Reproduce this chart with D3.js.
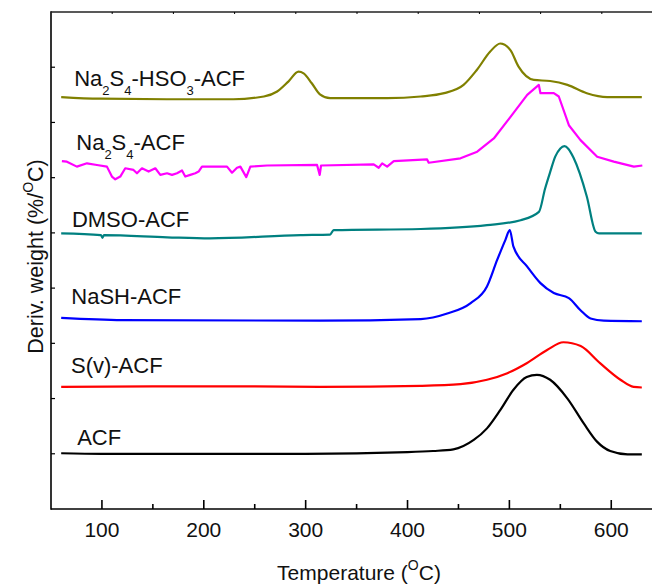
<!DOCTYPE html>
<html>
<head>
<meta charset="utf-8">
<script src="https://cdn.jsdelivr.net/npm/d3@7"></script>
<style>
  body { margin: 0; background: #fff; }
  svg { display: block; font-family: "Liberation Sans", Arial, sans-serif; }
</style>
</head>
<body>
<div id="chart"></div>
<script>
// DTG curves, [temperature (C), stacked deriv. weight (arb. units)]
var acf = [[60,1.01],[100,1.0],[200,1.0],[300,1.0],[400,1.03],[425,1.05],[445,1.08],[465,1.25],[478,1.46],[491,1.79],[504,2.16],[517,2.39],[527,2.43],[540,2.34],[557,2.0],[573,1.55],[586,1.22],[599,1.05],[616,0.99],[630,0.99]];
var sv = [[60,2.21],[150,2.22],[250,2.22],[314,2.21],[413,2.23],[452,2.26],[478,2.34],[498,2.46],[517,2.64],[537,2.88],[553,3.02],[570,2.95],[589,2.64],[609,2.34],[622,2.21],[630,2.2]];
var nash = [[60,3.46],[120,3.42],[314,3.41],[413,3.44],[439,3.54],[462,3.73],[478,4.03],[488,4.51],[496,4.87],[500.4,5.05],[504,4.75],[517.5,4.39],[530.5,4.09],[543.6,3.91],[558.4,3.82],[569.8,3.6],[579.7,3.45],[592.7,3.41],[630,3.4]];
var dmso = [[60,4.99],[99,4.96],[100.5,4.91],[102,4.96],[164,4.92],[206,4.9],[295,4.96],[324,4.97],[327.5,5.05],[413,5.07],[478,5.14],[511,5.23],[529,5.38],[535,5.8],[540,6.1],[545,6.38],[550,6.53],[554,6.57],[558,6.52],[563,6.36],[576,5.66],[584.6,5.02],[588,4.99],[630,4.99]];
var na2s4 = [[60.7,6.3],[65.6,6.29],[75.4,6.2],[85.3,6.26],[95.1,6.23],[104.9,6.2],[109.8,6.02],[113.1,5.97],[118,6.02],[122.9,6.17],[131,6.14],[134.4,6.08],[139.3,6.17],[145.8,6.11],[152.4,6.17],[157.3,6.05],[163.9,6.08],[168.8,6.05],[173.7,6.08],[178.6,6.13],[181.8,6.02],[186.7,6.05],[191.7,6.08],[194.9,6.11],[198.2,6.2],[222.8,6.2],[227.7,6.09],[232.6,6.18],[235.9,6.2],[241.7,6.01],[245.7,6.2],[262.1,6.22],[311.2,6.23],[313.8,6.05],[315.1,6.22],[366.8,6.24],[371.7,6.18],[375.1,6.26],[380,6.2],[386.5,6.3],[419.2,6.33],[420.8,6.27],[452,6.35],[468.4,6.47],[484.7,6.71],[501.1,7.1],[517.5,7.5],[528.9,7.68],[530.5,7.53],[543.6,7.53],[548.5,7.47],[558.4,6.95],[569.8,6.68],[586.2,6.38],[602.5,6.29],[622.2,6.2],[630.5,6.22]];
var hso3 = [[60,7.46],[98,7.43],[164,7.42],[229,7.42],[259,7.47],[272,7.56],[283,7.74],[293,7.92],[298,7.89],[306,7.71],[314,7.51],[324,7.44],[380,7.44],[413,7.47],[436,7.53],[455,7.68],[468,7.95],[481,8.28],[491,8.43],[501,8.31],[509,8.01],[524,7.77],[540,7.75],[557,7.68],[576,7.53],[596,7.46],[630,7.46]];

var seriesData = [acf, sv, nash, dmso, na2s4, hso3];
var seriesColors = ["#000000", "#ff0000", "#0000ff", "#008080", "#ff00ff", "#808000"];
var seriesSmooth = [true, true, true, true, false, true];

// series labels: [text, isSubscript] pieces
var labelParts = [
  [["ACF", 0]],
  [["S(v)-ACF", 0]],
  [["NaSH-ACF", 0]],
  [["DMSO-ACF", 0]],
  [["Na", 0], ["2", 1], ["S", 0], ["4", 1], ["-ACF", 0]],
  [["Na", 0], ["2", 1], ["S", 0], ["4", 1], ["-HSO", 0], ["3", 1], ["-ACF", 0]]
];
var labelT = [75.7, 69.6, 69.9, 70.5, 74.8, 72.8];
var labelV = [1.15, 2.46, 3.71, 5.11, 6.5, 7.66];

var xTicks = [100, 200, 300, 400, 500, 600];
var xMinor = [150, 250, 350, 450, 550];

var W = 652, H = 584;
var L = 51, R = 652, T = 12, B = 509;

var svg = d3.select("#chart").append("svg")
  .attr("width", W).attr("height", H);

var x = d3.scaleLinear().domain([50, 640]).range([L, R]);
var y = d3.scaleLinear().domain([0, 9]).range([B, T]);
var xTop = d3.scaleLinear().domain([0, 9.82]).range([L, R]);

var line = d3.line().x(function(d) { return x(d[0]); }).y(function(d) { return y(d[1]); });

seriesData.forEach(function(data, i) {
  svg.append("path")
    .datum(data)
    .attr("fill", "none")
    .attr("stroke", seriesColors[i])
    .attr("stroke-width", 2.2)
    .attr("stroke-linejoin", "round")
    .attr("d", line.curve(seriesSmooth[i] ? d3.curveMonotoneX : d3.curveLinear));
});

// axes
var axisG = svg.append("g").attr("stroke", "#000").attr("stroke-width", 1.6);
axisG.append("line").attr("x1", L).attr("x2", L).attr("y1", T - 0.8).attr("y2", B + 0.8);
axisG.append("line").attr("x1", L).attr("x2", R).attr("y1", B).attr("y2", B);
axisG.append("line").attr("x1", L).attr("x2", R).attr("y1", T).attr("y2", T).attr("stroke", "#222");

xTicks.forEach(function(t) {
  axisG.append("line").attr("x1", x(t)).attr("x2", x(t)).attr("y1", B).attr("y2", B - 9);
});
xMinor.forEach(function(t) {
  axisG.append("line").attr("x1", x(t)).attr("x2", x(t)).attr("y1", B).attr("y2", B - 5);
});
d3.range(1, 10).forEach(function(k) {
  axisG.append("line").attr("x1", xTop(k)).attr("x2", xTop(k)).attr("y1", T).attr("y2", T + 2)
    .attr("stroke-width", 1);
});
d3.range(1, 9).forEach(function(k) {
  axisG.append("line").attr("x1", L).attr("x2", L + 4).attr("y1", y(k)).attr("y2", y(k))
    .attr("stroke-width", 1.2);
});

svg.append("g").selectAll("text").data(xTicks).enter().append("text")
  .attr("x", function(d) { return x(d); })
  .attr("y", 536.7)
  .attr("text-anchor", "middle")
  .attr("font-size", 21)
  .attr("fill", "#111")
  .text(function(d) { return d; });

// axis titles
var xt = svg.append("text").attr("x", 359).attr("y", 580)
  .attr("text-anchor", "middle").attr("font-size", 21).attr("fill", "#111");
xt.append("tspan").text("Temperature (");
xt.append("tspan").attr("font-size", 14).attr("dy", -10).text("O");
xt.append("tspan").attr("dy", 10).text("C)");

var yt = svg.append("text")
  .attr("transform", "translate(43,256.5) rotate(-90)")
  .attr("text-anchor", "middle").attr("font-size", 21.5).attr("fill", "#111");
yt.append("tspan").text("Deriv. weight (%/");
yt.append("tspan").attr("font-size", 14).attr("dy", -10).text("O");
yt.append("tspan").attr("dy", 10).text("C)");

// series labels
labelParts.forEach(function(parts, i) {
  var txt = svg.append("text")
    .attr("x", x(labelT[i])).attr("y", y(labelV[i]))
    .attr("font-size", 22).attr("fill", "#111");
  var prevSub = 0;
  parts.forEach(function(p) {
    var sub = p[1];
    txt.append("tspan")
      .attr("dy", (sub - prevSub) * 9)
      .attr("font-size", sub ? 13 : 22)
      .text(p[0]);
    prevSub = sub;
  });
});
</script>
</body>
</html>
